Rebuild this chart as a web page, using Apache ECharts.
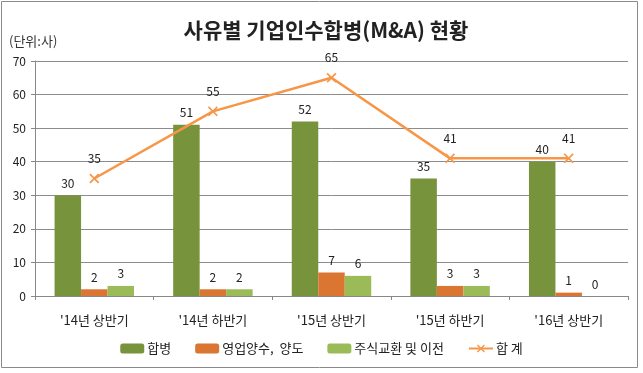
<!DOCTYPE html>
<html><head><meta charset="utf-8">
<script src="https://cdn.jsdelivr.net/npm/echarts@6/dist/echarts.min.js"></script>
<style>html,body{margin:0;padding:0;background:#fff}#c{width:643px;height:373px}</style>
</head><body><div id="c"></div>
<script>
const categories = ["'14년 상반기", "'14년 하반기", "'15년 상반기", "'15년 하반기", "'16년 상반기"];
const merger = [30, 51, 52, 35, 40];
const transfer = [2, 2, 7, 3, 1];
const shareExchange = [3, 2, 6, 3, 0];
const total = [35, 55, 65, 41, 41];
const seriesNames = ['합병', '영업양수,  양도', '주식교환 및 이전', '합 계'];
const yTicks = [0, 10, 20, 30, 40, 50, 60, 70];

const FONT = '"Noto Sans CJK KR", "Noto Sans", sans-serif';
const chart = echarts.init(document.getElementById('c'));
const lbl = {show: true, position: 'top', color: '#222', fontSize: 12, fontFamily: FONT, distance: 6};
const crossPath = 'path://M0,1.2L1.2,0L5,3.8L8.8,0L10,1.2L6.2,5L10,8.8L8.8,10L5,6.2L1.2,10L0,8.8L3.8,5Z';
chart.setOption({
  backgroundColor: '#fff',
  animation: false,
  textStyle: {fontFamily: FONT},
  title: {
    text: '사유별 기업인수합병(M&A) 현황',
    left: 321, textAlign: 'center', top: 15,
    textStyle: {fontSize: 21, fontWeight: 'bold', color: '#222', fontFamily: FONT}
  },
  graphic: [
    {type: 'rect', shape: {x: 1.5, y: 1.5, width: 636, height: 366}, style: {fill: 'none', stroke: '#8a8a8a', lineWidth: 1}, silent: true},
    {type: 'text', left: 9, top: 35, style: {text: '(단위:사)', fontSize: 13, fill: '#333', fontFamily: FONT}}
  ],
  legend: {
    bottom: 13, left: 'center', itemWidth: 24, itemHeight: 10, itemGap: 24,
    textStyle: {fontSize: 13, color: '#222', fontFamily: FONT, padding: [0, 0, 0, -2]},
    data: seriesNames
  },
  grid: {left: 35, right: 15, top: 61, bottom: 77},
  xAxis: {
    type: 'category', data: categories,
    axisLine: {lineStyle: {color: '#888'}},
    axisTick: {show: true, length: 4, lineStyle: {color: '#888'}},
    axisLabel: {color: '#222', fontSize: 13, margin: 18, fontFamily: FONT}
  },
  yAxis: {
    type: 'value', min: yTicks[0], max: yTicks[yTicks.length - 1], interval: 10,
    axisLine: {show: true, lineStyle: {color: '#888'}},
    axisTick: {show: true, length: 4, lineStyle: {color: '#888'}},
    axisLabel: {color: '#222', fontSize: 12, margin: 9, fontFamily: FONT},
    splitLine: {lineStyle: {color: '#8c8c8c', width: 1}}
  },
  series: [
    {name: seriesNames[0], type: 'bar', data: merger, barGap: '0%', barCategoryGap: '33%', itemStyle: {color: '#77933C'}, label: lbl},
    {name: seriesNames[1], type: 'bar', data: transfer, itemStyle: {color: '#DA7532'}, label: lbl},
    {name: seriesNames[2], type: 'bar', data: shareExchange, itemStyle: {color: '#9BBB59'}, label: lbl},
    {name: seriesNames[3], type: 'line', data: total, symbol: crossPath, symbolSize: 10,
     lineStyle: {color: '#F79646', width: 2.5}, itemStyle: {color: '#F79646'},
     label: {show: true, position: 'top', color: '#222', fontSize: 12, fontFamily: FONT, distance: 9}}
  ]
});
</script></body></html>
